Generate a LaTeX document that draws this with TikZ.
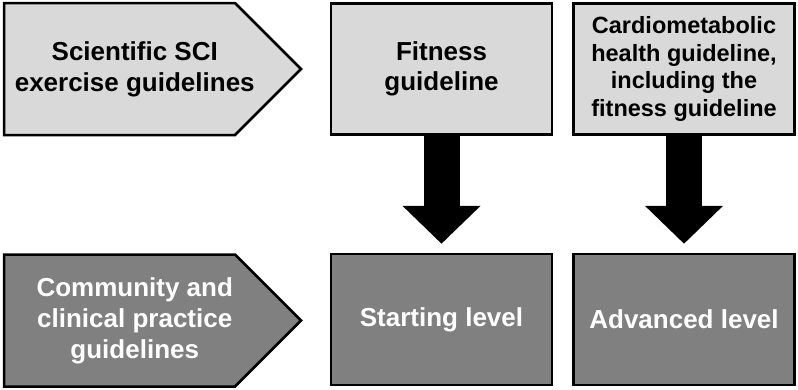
\documentclass[tikz,border=0pt]{standalone}
\usepackage{fontspec}
\setmainfont{Liberation Sans}
\usetikzlibrary{positioning, arrows.meta, shapes.symbols}
\definecolor{lightbox}{HTML}{D9D9D9}
\definecolor{darkbox}{HTML}{808080}

\begin{document}
\begin{tikzpicture}[x=1pt, y=-1pt,
  box/.style={draw, line width=2.5pt, minimum width=221pt, minimum height=131pt,
    align=center, inner sep=0pt, font=\fontsize{26}{30}\selectfont\bfseries},
  tag/.style={draw, line width=2.5pt, shape=signal, signal to=east, signal pointer angle=90,
    inner sep=0pt, minimum width=297pt, minimum height=132pt},
  tagtext/.style={align=center, inner sep=0pt, font=\fontsize{26}{31}\selectfont\bfseries},
  top/.style={fill=lightbox},
  bottom/.style={fill=darkbox, text=white},
  bigarrow/.style={line width=36pt, -{Triangle[width=76pt, length=38pt]}, shorten >=9pt}]
  \useasboundingbox (0,0) rectangle (798,389);

  % guideline row
  \node[tag, top] (sci) at (119.5,69) {};
  \node[tagtext] (scitext) at ([xshift=132pt]sci.west) {Scientific SCI\\exercise guidelines};
  \node[box, top, right=27pt of sci] (fitness) {Fitness\\guideline};
  \node[box, top, right=19pt of fitness, font=\fontsize{23.5}{27.7}\selectfont\bfseries] (cardio) {Cardiometabolic\\health guideline,\\including the\\fitness guideline};

  % practice row
  \node[tag, bottom, below=117pt of sci] (community) {};
  \node[tagtext, text=white] (commtext) at ([xshift=132pt]community.west) {Community and\\clinical practice\\guidelines};
  \node[box, bottom, below=117pt of fitness] (starting) {Starting level};
  \node[box, bottom, below=117pt of cardio] (advanced) {Advanced level};

  \draw[bigarrow] (fitness) -- (starting);
  \draw[bigarrow] (cardio) -- (advanced);
\end{tikzpicture}
\end{document}
